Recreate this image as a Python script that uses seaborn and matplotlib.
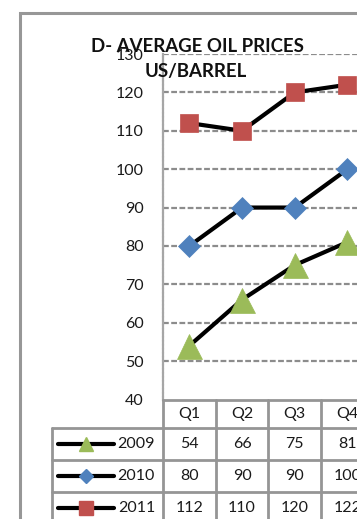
import matplotlib
matplotlib.use("Agg")
import matplotlib.pyplot as plt
import seaborn as sns
import pandas as pd
from matplotlib.patches import Rectangle

sns.set_theme(style="white")
plt.rcParams['font.family'] = ['Lato', 'DejaVu Sans']

quarters = ["Q1", "Q2", "Q3", "Q4"]
years = ["2009", "2010", "2011"]
prices_2009 = [54, 66, 75, 81]
prices_2010 = [80, 90, 90, 100]
prices_2011 = [112, 110, 120, 122]
yticks = [40, 50, 60, 70, 80, 90, 100, 110, 120, 130]
title_line1 = "D- AVERAGE OIL PRICES"
title_line2 = "US/BARREL"

series = {"2009": prices_2009, "2010": prices_2010, "2011": prices_2011}
styles = {
    "2009": dict(marker="^", ms=18, color="#9BBB59", lms=10),
    "2010": dict(marker="D", ms=11.5, color="#4F81BD", lms=7),
    "2011": dict(marker="s", ms=13.5, color="#C0504D", lms=10.5),
}
df = pd.DataFrame([
    {"quarter": q, "year": y, "price": v}
    for y in years for q, v in zip(quarters, series[y])
])

W, H = 357, 519
fig = plt.figure(figsize=(W / 100, H / 100), dpi=100)
fig.patch.set_facecolor("white")

# outer chart frame
fig.patches.append(Rectangle((20 / W, -0.1), 1.2, 1 - 13 / H + 0.1,
                             transform=fig.transFigure, fill=False,
                             edgecolor="#979797", linewidth=2.2, zorder=0))

cat_w = 52.7
left_px, top_px, bottom_px = 163, 54, 399.5
ax = fig.add_axes([left_px / W, 1 - bottom_px / H, 4 * cat_w / W, (bottom_px - top_px) / H])
ax.set_facecolor("none")

for y in years:
    st = styles[y]
    sns.lineplot(data=df[df["year"] == y], x="quarter", y="price", ax=ax,
                 color="black", linewidth=3, marker=st["marker"], markersize=st["ms"],
                 markerfacecolor=st["color"], markeredgecolor=st["color"],
                 markeredgewidth=0.5, legend=False, zorder=3)

ax.set_xlim(-0.5, 3.5)
ax.set_ylim(40, 130)
ax.set_yticks(yticks)
ax.set_yticklabels([str(t) for t in yticks], fontsize=11.5, color="#1a1a1a")
ax.set_xticks([])
ax.set_xlabel("")
ax.set_ylabel("")
ax.tick_params(axis="y", length=0, pad=14)
for t in yticks[1:]:
    ax.axhline(t, color="#8c8c8c", lw=1.6, linestyle=(0, (2.6, 1.1)), zorder=1)
for s in ["top", "right", "bottom"]:
    ax.spines[s].set_visible(False)
ax.spines["left"].set_color("#a6a6a6")
ax.spines["left"].set_linewidth(1.6)
ax.spines["left"].set_linestyle((0, (1, 0.8)))

# title
fig.text(197.5 / W, 1 - 46 / H, title_line1, ha="center", va="center",
         fontsize=13.4, fontweight="bold", color="#111111")
fig.text(195.5 / W, 1 - 71.5 / H, title_line2, ha="center", va="center",
         fontsize=13.4, fontweight="bold", color="#111111")

# data table
tab_left_px = 52
tab_top = 399.5
x_left = -0.5 - (left_px - tab_left_px) / cat_w
tax = fig.add_axes([tab_left_px / W, 1 - (tab_top + 125) / H,
                    (left_px + 4 * cat_w - tab_left_px) / W, 125 / H])
tax.set_xlim(x_left, 3.5)
tax.set_ylim(125, 0)
tax.axis("off")
gc = "#959595"
glw = 2.0
rows_y = [0, 28.5, 60.5, 92.5, 124.5]
tax.plot([-0.5, 3.5], [rows_y[0]] * 2, color=gc, lw=glw, clip_on=False)
for ry in rows_y[1:]:
    tax.plot([x_left, 3.5], [ry] * 2, color=gc, lw=glw, clip_on=False)
for cx in [-0.5, 0.5, 1.5, 2.5, 3.5]:
    tax.plot([cx, cx], [0, 125], color=gc, lw=glw, clip_on=False)
tax.plot([x_left, x_left], [rows_y[1], 125], color=gc, lw=glw, clip_on=False)

for i, q in enumerate(quarters):
    tax.text(i, 14.5, q, ha="center", va="center", fontsize=11.5, color="#1a1a1a")
for r, y in enumerate(years):
    cy = (rows_y[r + 1] + rows_y[r + 2]) / 2
    st = styles[y]
    lx0 = -0.5 + (58 - left_px) / cat_w
    lx1 = -0.5 + (114 - left_px) / cat_w
    tax.plot([lx0, lx1], [cy, cy], color="black", lw=3, solid_capstyle="round")
    tax.plot([(lx0 + lx1) / 2], [cy], marker=st["marker"], ms=st["lms"],
             color=st["color"], markeredgecolor=st["color"], linestyle="none")
    tax.text(-0.5 + (155 - left_px) / cat_w, cy, y, ha="right", va="center",
             fontsize=11.5, color="#1a1a1a")
    for i, v in enumerate(series[y]):
        tax.text(i, cy, str(v), ha="center", va="center", fontsize=11.5,
                 color="#1a1a1a", clip_on=False)

fig.savefig("out.png", dpi=100, facecolor="white")
